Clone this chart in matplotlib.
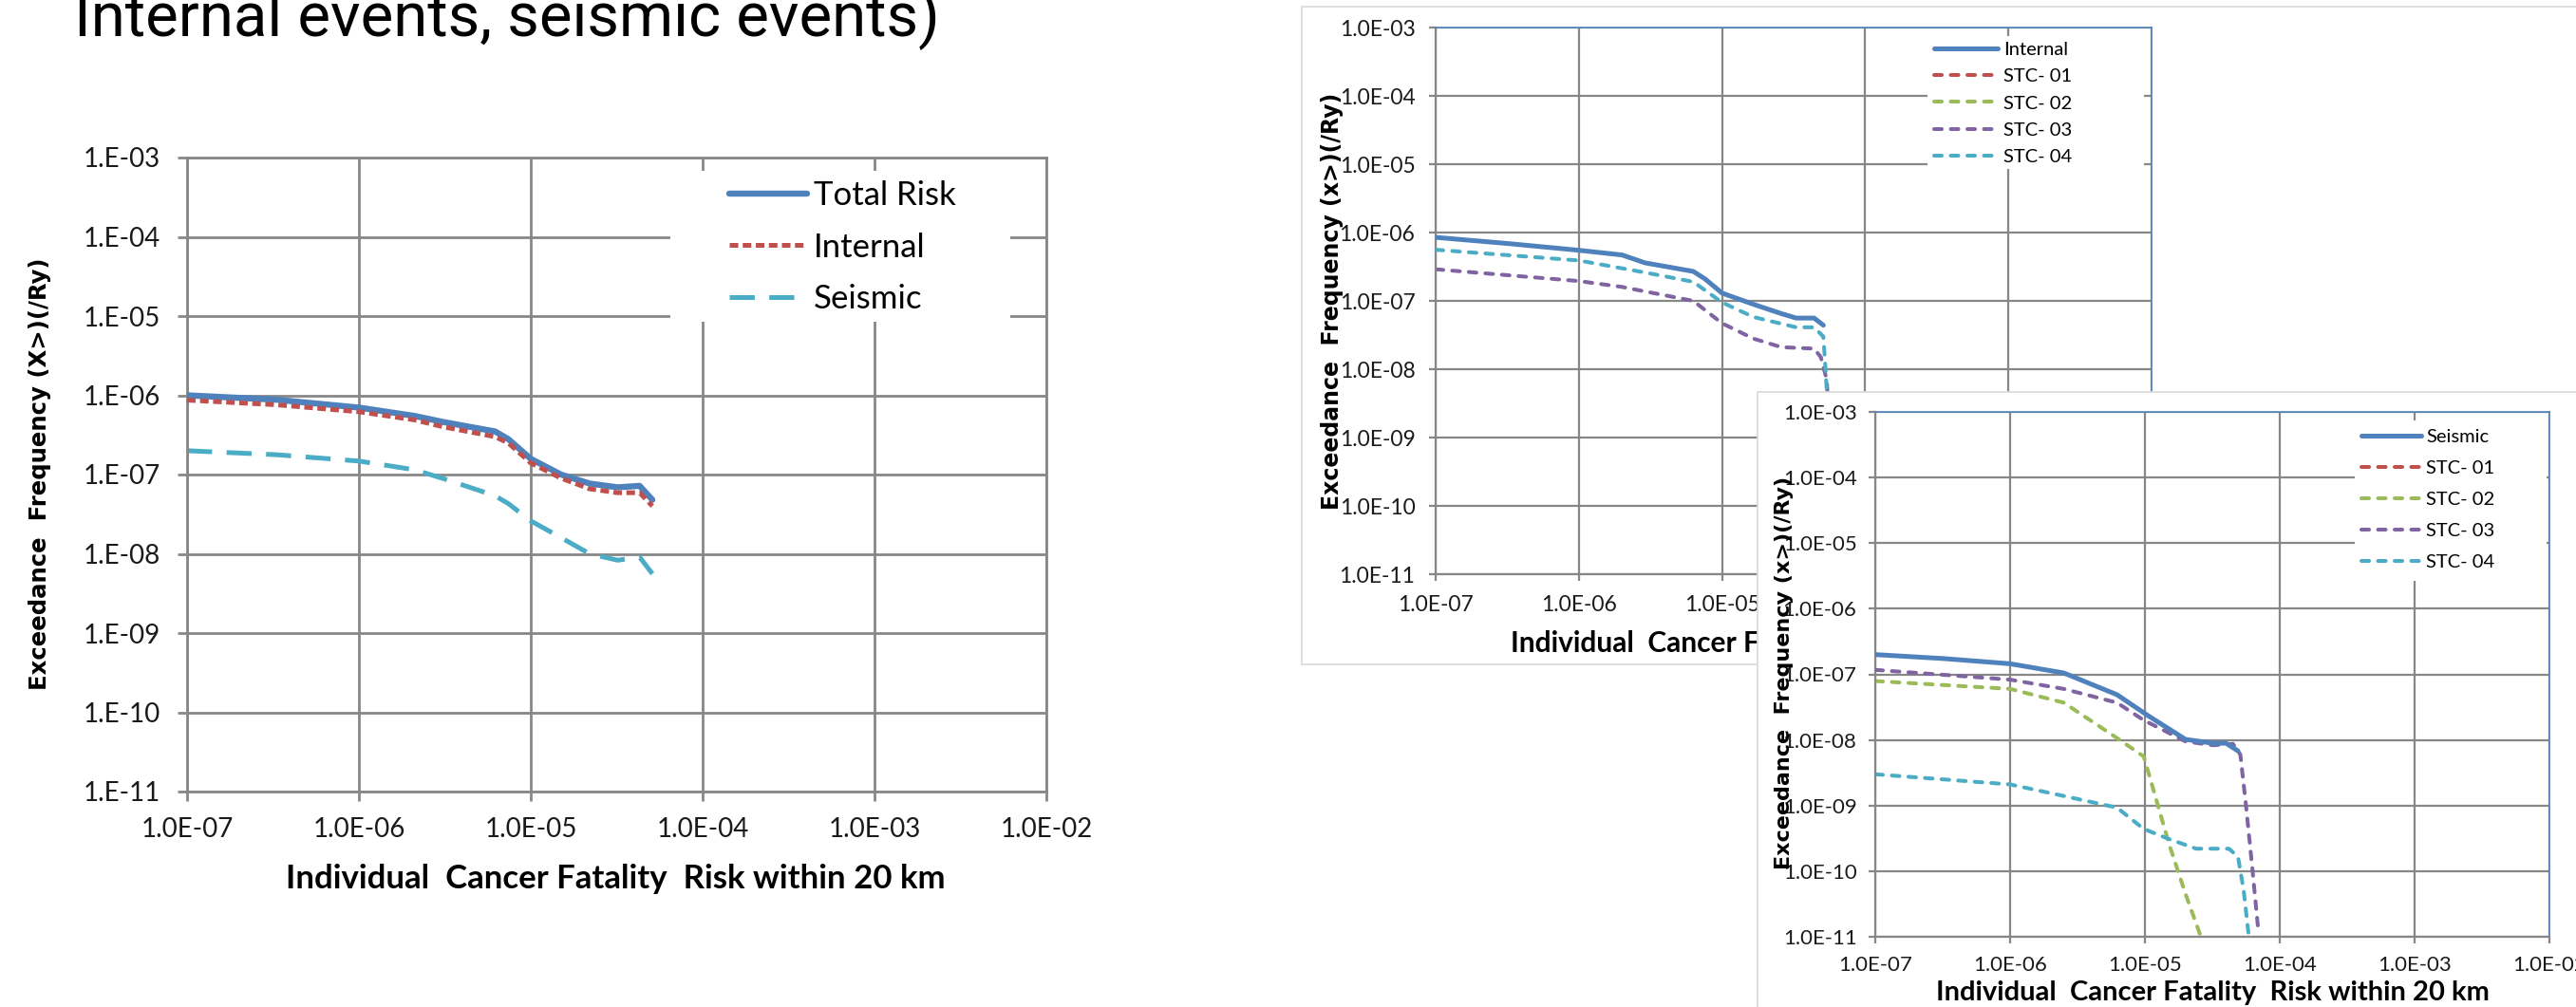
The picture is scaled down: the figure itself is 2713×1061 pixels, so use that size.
import matplotlib
matplotlib.use("Agg")
import matplotlib.pyplot as plt
from matplotlib.patches import Rectangle
from matplotlib.ticker import FixedLocator, FixedFormatter, NullLocator

W, H = 2713, 1061
plt.rcParams['font.family'] = ['Lato', 'DejaVu Sans']
plt.rcParams['lines.scale_dashes'] = False

# ---------------- data ----------------
title_text = "Internal events, seismic events)"
x_ticks = [1e-7, 1e-6, 1e-5, 1e-4, 1e-3, 1e-2]
x_tick_labels = ["1.0E-07", "1.0E-06", "1.0E-05", "1.0E-04", "1.0E-03", "1.0E-02"]
y_ticks = [1e-11, 1e-10, 1e-9, 1e-8, 1e-7, 1e-6, 1e-5, 1e-4, 1e-3]
y_tick_labels_left = ["1.E-11", "1.E-10", "1.E-09", "1.E-08", "1.E-07",
                      "1.E-06", "1.E-05", "1.E-04", "1.E-03"]
y_tick_labels = ["1.0E-11", "1.0E-10", "1.0E-09", "1.0E-08", "1.0E-07",
                 "1.0E-06", "1.0E-05", "1.0E-04", "1.0E-03"]
x_title = "Individual  Cancer Fatality  Risk within 20 km"
y_title_left = "Exceedance  Frequency (X>)(/Ry)"
y_title_right = "Exceedance  Frequency (x>)(/Ry)"

# left chart: total / internal / seismic
left_x = [1.0e-7, 3.3e-7, 1.0e-6, 2.1e-6, 3.1e-6, 6.2e-6, 7.4e-6, 1.0e-5,
          1.5e-5, 2.2e-5, 3.2e-5, 4.3e-5, 5.1e-5]
left_total = [1.0e-6, 8.8e-7, 7.0e-7, 5.5e-7, 4.6e-7, 3.5e-7, 2.8e-7, 1.58e-7,
              1.0e-7, 7.7e-8, 6.9e-8, 7.2e-8, 4.8e-8]
left_internal = [8.7e-7, 7.6e-7, 6.2e-7, 4.9e-7, 4.0e-7, 3.0e-7, 2.5e-7, 1.4e-7,
                 9.0e-8, 6.6e-8, 5.9e-8, 5.9e-8, 4.0e-8]
left_seismic = [2.0e-7, 1.78e-7, 1.48e-7, 1.15e-7, 8.9e-8, 5.4e-8, 4.3e-8, 2.6e-8,
                1.6e-8, 1.0e-8, 8.3e-9, 9.1e-9, 5.6e-9]
left_labels = ["Total Risk", "Internal", "Seismic"]

# middle chart: internal events by STC
int_x = [1e-7, 3.2e-7, 1e-6, 2.0e-6, 2.9e-6, 6.3e-6, 7.6e-6, 1e-5,
         1.66e-5, 2.6e-5, 3.3e-5, 4.4e-5, 5.1e-5]
int_total = [8.5e-7, 6.9e-7, 5.5e-7, 4.7e-7, 3.6e-7, 2.7e-7, 2.1e-7, 1.3e-7,
             8.9e-8, 6.5e-8, 5.6e-8, 5.6e-8, 4.4e-8]
int_stc01_x, int_stc01 = [], []
int_stc02_x, int_stc02 = [], []
int_stc03_x = [1e-7, 1e-6, 2.0e-6, 6.3e-6, 1e-5, 1.66e-5, 2.6e-5, 4.4e-5, 4.9e-5,
               5.4e-5, 5.6e-5, 6.3e-5]
int_stc03 = [2.9e-7, 1.95e-7, 1.6e-7, 1.0e-7, 4.7e-8, 2.8e-8, 2.1e-8, 2.0e-8, 1.5e-8,
             6.9e-9, 1.0e-9, 1.0e-11]
int_stc04_x = [1e-7, 1e-6, 2.9e-6, 6.3e-6, 1e-5, 1.66e-5, 3.3e-5, 4.4e-5, 5.1e-5,
               5.3e-5, 5.6e-5, 6.0e-5]
int_stc04 = [5.6e-7, 3.9e-7, 2.6e-7, 1.9e-7, 9.5e-8, 5.8e-8, 4.1e-8, 4.1e-8, 3.0e-8,
             9.1e-9, 1.0e-9, 1.0e-11]
int_labels = ["Internal", "STC- 01", "STC- 02", "STC- 03", "STC- 04"]

# bottom chart: seismic events by STC
sei_x = [1e-7, 3.2e-7, 1e-6, 2.5e-6, 6.2e-6, 1.07e-5, 2.0e-5, 3.2e-5, 4.0e-5, 4.9e-5]
sei_total = [2.0e-7, 1.74e-7, 1.45e-7, 1.05e-7, 4.9e-8, 2.3e-8, 1.02e-8, 8.9e-9,
             8.9e-9, 6.8e-9]
sei_stc01_x, sei_stc01 = [], []
sei_stc02_x = [1e-7, 1e-6, 2.5e-6, 6.2e-6, 9.8e-6, 1.17e-5, 1.5e-5, 2.0e-5, 2.6e-5]
sei_stc02 = [7.9e-8, 6.0e-8, 3.7e-8, 1.07e-8, 5.6e-9, 1.6e-9, 2.7e-10, 4.5e-11, 1.0e-11]
sei_stc03_x = [1e-7, 1e-6, 2.5e-6, 6.2e-6, 9.8e-6, 2.0e-5, 3.2e-5, 4.5e-5, 5.1e-5,
               5.6e-5, 6.2e-5, 6.9e-5]
sei_stc03 = [1.17e-7, 8.3e-8, 6.0e-8, 3.7e-8, 2.0e-8, 9.5e-9, 8.3e-9, 8.7e-9, 6.0e-9,
             1.07e-9, 1.35e-10, 1.38e-11]
sei_stc04_x = [1e-7, 1e-6, 2.5e-6, 6.2e-6, 9.8e-6, 1.5e-5, 2.4e-5, 4.2e-5, 4.9e-5,
               5.4e-5, 5.9e-5]
sei_stc04 = [3.0e-9, 2.1e-9, 1.4e-9, 9.3e-10, 4.4e-10, 3.1e-10, 2.2e-10, 2.2e-10,
             1.66e-10, 5.1e-11, 1.0e-11]
sei_labels = ["Seismic", "STC- 01", "STC- 02", "STC- 03", "STC- 04"]

# ---------------- styling ----------------
BLUE, RED, GREEN, PURPLE, CYAN = "#4F81BD", "#C0504D", "#9BBB59", "#8064A2", "#4BACC6"
GRID = "#878787"
FRAME = "#d9d9d9"

fig = plt.figure(figsize=(W / 100, H / 100), dpi=100)
fig.patch.set_facecolor("white")


def fx(px):
    return px / W


def fy(py):
    return 1 - py / H


def add_ax(l, t, r, b, z):
    return fig.add_axes([fx(l), fy(b), (r - l) / W, (b - t) / H], zorder=z)


def frame(l, t, r, b, z):
    fig.add_artist(Rectangle((fx(l), fy(b)), (r - l) / W, (b - t) / H,
                             transform=fig.transFigure, facecolor="white",
                             edgecolor=FRAME, lw=1.2, zorder=z))


def style(ax, ylabels, grid_lw, tick_len, pad_x, pad_y, fs, blue_border):
    ax.set_xscale("log")
    ax.set_yscale("log")
    ax.set_xlim(1e-7, 1e-2)
    ax.set_ylim(1e-11, 1e-3)
    ax.xaxis.set_major_locator(FixedLocator(x_ticks))
    ax.xaxis.set_major_formatter(FixedFormatter(x_tick_labels))
    ax.yaxis.set_major_locator(FixedLocator(y_ticks))
    ax.yaxis.set_major_formatter(FixedFormatter(ylabels))
    ax.xaxis.set_minor_locator(NullLocator())
    ax.yaxis.set_minor_locator(NullLocator())
    ax.set_axisbelow(True)
    ax.grid(True, which="major", color=GRID, lw=grid_lw)
    ax.tick_params(axis="both", direction="out", length=tick_len, width=grid_lw,
                   color=GRID, labelsize=fs, labelcolor="#1a1a1a")
    ax.tick_params(axis="x", pad=pad_x)
    ax.tick_params(axis="y", pad=pad_y)
    for s in ["left", "bottom"]:
        ax.spines[s].set_color(GRID)
        ax.spines[s].set_linewidth(grid_lw)
    for s in ["top", "right"]:
        if blue_border:
            ax.spines[s].set_color(BLUE)
            ax.spines[s].set_linewidth(1.2)
        else:
            ax.spines[s].set_color(GRID)
            ax.spines[s].set_linewidth(grid_lw)


def legend_box(ax, box, axbox):
    l, t, r, b = axbox
    bl, bt, br, bb = box
    ax.add_patch(Rectangle(((bl - l) / (r - l), (b - bb) / (b - t)),
                           (br - bl) / (r - l), (bb - bt) / (b - t),
                           transform=ax.transAxes, facecolor="white",
                           edgecolor="none", zorder=1, clip_on=False))


def fig_text(ax, x, y, s, **kw):
    ax.text(fx(x), fy(y), s, transform=fig.transFigure, ha="center", va="center",
            clip_on=False, **kw)


# ---------- title ----------
fig.text(fx(78), fy(38), title_text, fontsize=47, va="baseline", ha="left",
         family=["Roboto", "DejaVu Sans"], color="black")

# ---------- left chart ----------
A1 = (197, 166, 1102, 834)
ax1 = add_ax(*A1, z=1)
style(ax1, y_tick_labels_left, 2.0, 7.2, 12, 13, 20, False)
ax1.plot(left_x, left_total, color=BLUE, lw=4.6, solid_capstyle="round",
         label=left_labels[0], zorder=3)
ax1.plot(left_x, left_internal, color=RED, lw=3.6, dashes=(6.5, 3.4),
         label=left_labels[1], zorder=4)
ax1.plot(left_x, left_seismic, color=CYAN, lw=3.6, dashes=(19, 11),
         label=left_labels[2], zorder=2)
legend_box(ax1, (706, 180, 1064, 339), A1)
ax1.legend(loc="center left", bbox_to_anchor=((768 - 197) / 905, (834 - 260.5) / 668),
           frameon=False, fontsize=25, handlelength=2.36, handletextpad=0.2,
           labelspacing=0.65, borderpad=0, borderaxespad=0)
fig_text(ax1, 648, 926, x_title, fontsize=25, fontweight="bold")
fig_text(ax1, 42, 499, y_title_left, fontsize=17.6, fontweight="bold", rotation=90,
         family=["DejaVu Sans"])

# ---------- middle chart (internal) ----------
frame(1371, 7, 2800, 700, z=0.5)
A2 = (1512, 29, 2266, 605)
ax2 = add_ax(*A2, z=1)
style(ax2, y_tick_labels, 1.6, 5, 11, 10.5, 16.5, True)
ax2.plot(int_x, int_total, color=BLUE, lw=3.6, solid_capstyle="round",
         label=int_labels[0], zorder=4)
ax2.plot(int_stc01_x, int_stc01, color=RED, lw=2.9, dashes=(5.8, 6.8),
         dash_capstyle="round", label=int_labels[1])
ax2.plot(int_stc02_x, int_stc02, color=GREEN, lw=2.9, dashes=(5.8, 6.8),
         dash_capstyle="round", label=int_labels[2])
ax2.plot(int_stc03_x, int_stc03, color=PURPLE, lw=2.9, dashes=(5.8, 6.8),
         dash_capstyle="round", label=int_labels[3], zorder=2)
ax2.plot(int_stc04_x, int_stc04, color=CYAN, lw=2.9, dashes=(5.8, 6.8),
         dash_capstyle="round", label=int_labels[4], zorder=3)
legend_box(ax2, (2030, 38, 2258, 178), A2)
ax2.legend(loc="center left", bbox_to_anchor=((2037 - 1512) / 754, (605 - 109) / 576),
           frameon=False, fontsize=14.5, handlelength=3.33, handletextpad=0.3,
           labelspacing=0.56, borderpad=0, borderaxespad=0)
fig_text(ax2, 1889, 678, x_title, fontsize=21.5, fontweight="bold")
fig_text(ax2, 1403, 317, y_title_right, fontsize=17, fontweight="bold", rotation=90,
         family=["DejaVu Sans"])

# ---------- bottom chart (seismic) ----------
frame(1851, 413, 2800, 1100, z=2)
A3 = (1975, 434, 2685, 987)
ax3 = add_ax(*A3, z=3)
style(ax3, y_tick_labels, 1.6, 5, 9.4, 9, 16, True)
ax3.plot(sei_x, sei_total, color=BLUE, lw=3.6, solid_capstyle="round",
         label=sei_labels[0], zorder=4)
ax3.plot(sei_stc01_x, sei_stc01, color=RED, lw=2.9, dashes=(5.8, 6.8),
         dash_capstyle="round", label=sei_labels[1])
ax3.plot(sei_stc02_x, sei_stc02, color=GREEN, lw=2.9, dashes=(5.8, 6.8),
         dash_capstyle="round", label=sei_labels[2], zorder=2)
ax3.plot(sei_stc03_x, sei_stc03, color=PURPLE, lw=2.9, dashes=(5.8, 6.8),
         dash_capstyle="round", label=sei_labels[3], zorder=3)
ax3.plot(sei_stc04_x, sei_stc04, color=CYAN, lw=2.9, dashes=(5.8, 6.8),
         dash_capstyle="round", label=sei_labels[4], zorder=2)
legend_box(ax3, (2480, 443, 2682, 612), A3)
ax3.legend(loc="center left", bbox_to_anchor=((2487 - 1975) / 710, (987 - 526.5) / 553),
           frameon=False, fontsize=14.5, handlelength=3.13, handletextpad=0.25,
           labelspacing=0.8, borderpad=0, borderaxespad=0)
fig_text(ax3, 2330, 1046, x_title, fontsize=21, fontweight="bold")
fig_text(ax3, 1879, 709, y_title_right, fontsize=16, fontweight="bold", rotation=90,
         family=["DejaVu Sans"])

fig.savefig("out.png", dpi=100, facecolor="white")
